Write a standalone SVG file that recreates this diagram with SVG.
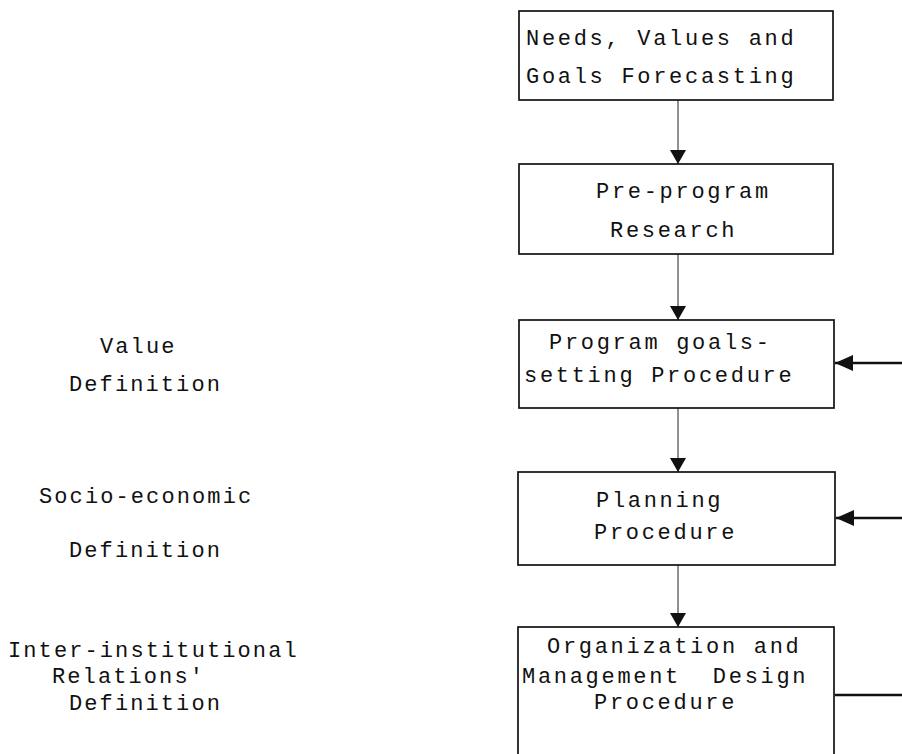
<svg xmlns="http://www.w3.org/2000/svg" width="902" height="754" viewBox="0 0 902 754">
<style>
.box{fill:#fff;stroke:#111;stroke-width:1.7}
.t{font-family:"Liberation Mono","Courier New",monospace;font-size:22px;fill:#111;letter-spacing:2.7px;white-space:pre}
.l{font-family:"Liberation Mono","Courier New",monospace;font-size:22px;fill:#111;letter-spacing:2.1px}
.c{stroke:#222;stroke-width:1;fill:none}
.h{stroke:#111;stroke-width:2.6;fill:none}
</style>
<defs>
<marker id="ad" markerUnits="userSpaceOnUse" markerWidth="18" markerHeight="16" refX="9" refY="15" orient="0" viewBox="0 0 18 16">
<path d="M1,1 L17,1 L9,15 Z" fill="#111"/>
</marker>
<marker id="al" markerUnits="userSpaceOnUse" markerWidth="20" markerHeight="18" refX="1" refY="9" orient="0" viewBox="0 0 20 18">
<path d="M1,9 L19,1 L19,17 Z" fill="#111"/>
</marker>
</defs>
<rect width="902" height="754" fill="#fff"/>
<g id="connectors">
<line class="c" x1="678" y1="100" x2="678" y2="164" marker-end="url(#ad)"/>
<line class="c" x1="678" y1="254" x2="678" y2="320" marker-end="url(#ad)"/>
<line class="c" x1="678" y1="408" x2="678" y2="472" marker-end="url(#ad)"/>
<line class="c" x1="678" y1="565" x2="678" y2="627" marker-end="url(#ad)"/>
<line class="h" x1="902" y1="363" x2="835" y2="363" marker-end="url(#al)"/>
<line class="h" x1="902" y1="518" x2="836" y2="518" marker-end="url(#al)"/>
<line class="h" x1="902" y1="695" x2="835" y2="695"/>
</g>
<g id="n1">
<rect class="box" x="519" y="11" width="314" height="89"/>
<text class="t" x="526" y="45">Needs, Values and</text>
<text class="t" x="526" y="83">Goals Forecasting</text>
</g>
<g id="n2">
<rect class="box" x="519" y="164" width="314" height="90"/>
<text class="t" x="596" y="198">Pre-program</text>
<text class="t" x="610" y="237">Research</text>
</g>
<g id="n3">
<rect class="box" x="519" y="320" width="315" height="88"/>
<text class="t" x="549" y="349">Program goals-</text>
<text class="t" x="524" y="382">setting Procedure</text>
</g>
<g id="n4">
<rect class="box" x="518" y="472" width="317" height="93"/>
<text class="t" x="596" y="507">Planning</text>
<text class="t" x="594" y="539">Procedure</text>
</g>
<g id="n5">
<rect class="box" x="518" y="627" width="316" height="140"/>
<text class="t" x="547" y="653">Organization and</text>
<text class="t" x="522" y="683" xml:space="preserve">Management  Design</text>
<text class="t" x="594" y="709">Procedure</text>
</g>
<g id="labels">
<text class="l" x="100" y="353">Value</text>
<text class="l" x="69" y="391">Definition</text>
<text class="l" x="39" y="503">Socio-economic</text>
<text class="l" x="69" y="557">Definition</text>
<text class="l" x="8" y="657">Inter-institutional</text>
<text class="l" x="52" y="683">Relations'</text>
<text class="l" x="69" y="710">Definition</text>
</g>
</svg>
